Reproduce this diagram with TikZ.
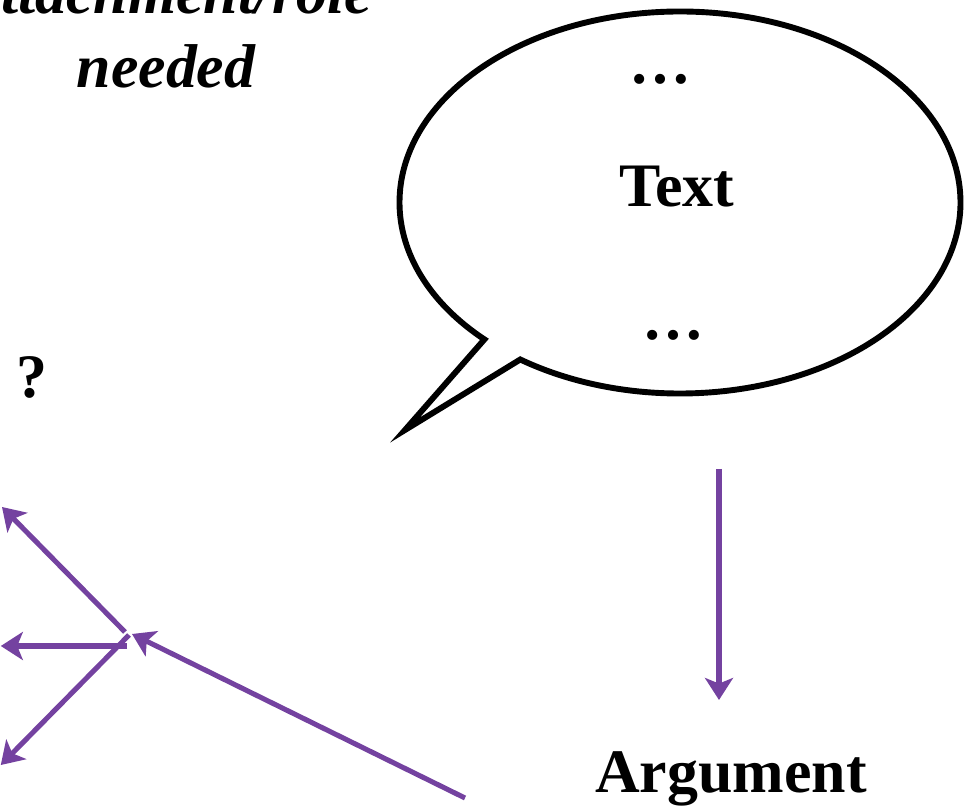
\documentclass[tikz,border=0pt]{standalone}
\usepackage{fontspec}
\setmainfont{Liberation Serif}
\usetikzlibrary{shapes.callouts, arrows.meta}
\definecolor{ArgPurple}{HTML}{7442A0}

\begin{document}
\begin{tikzpicture}[
    label/.style={font=\fontsize{44}{53}\selectfont\bfseries, inner sep=0pt, anchor=base},
    flow/.style={-{Stealth[length=0.55cm, width=0.7cm, inset=0.14cm]}, line width=3.6pt, ArgPurple}
  ]
  \clip (0,0) rectangle (24.125,20.15);

  % Attachment note
  \node[label, font=\fontsize{44}{53}\selectfont\bfseries\itshape, align=center] (role) at (4.15,17.95) {Attachment/role\\needed};

  % Speech bubble
  \node[ellipse callout, draw, line width=4.2pt, minimum width=14.025cm, minimum height=9.55cm, inner sep=0pt, outer sep=0pt, callout absolute pointer={(10.125,9.4)}, callout pointer arc=9.5] (bubble) at (17.0,15.0875) {};
  \node[label] (dotstop) at (16.5,18.05) {…};
  \node[label] (text) at (16.925,14.975) {Text};
  \node[label] (dotsbot) at (16.825,11.65) {…};

  % Question mark
  \node[label] (query) at (0.8,10.2) {?};

  % Argument
  \node[label] (argument) at (18.275,0.325) {Argument};

  % Arrow ends
  \coordinate (hubup) at (3.125,4.35);
  \coordinate (hubmid) at (3.175,4.0);
  \coordinate (hubdown) at (3.225,4.275);
  \coordinate (hubin) at (3.3,4.3);
  \coordinate (outup) at (0.05,7.475);
  \coordinate (outmid) at (0.02,4.0);
  \coordinate (outdown) at (0.02,1.025);
  \coordinate (source) at (11.625,0.2);
  \coordinate (bubbleout) at (17.975,8.425);
  \coordinate (argin) at (17.975,2.65);

  % Arrows
  \draw[flow] (hubup) -- (outup);
  \draw[flow] (hubmid) -- (outmid);
  \draw[flow] (hubdown) -- (outdown);
  \draw[flow] (source) -- (hubin);
  \draw[flow] (bubbleout) -- (argin);
\end{tikzpicture}
\end{document}
